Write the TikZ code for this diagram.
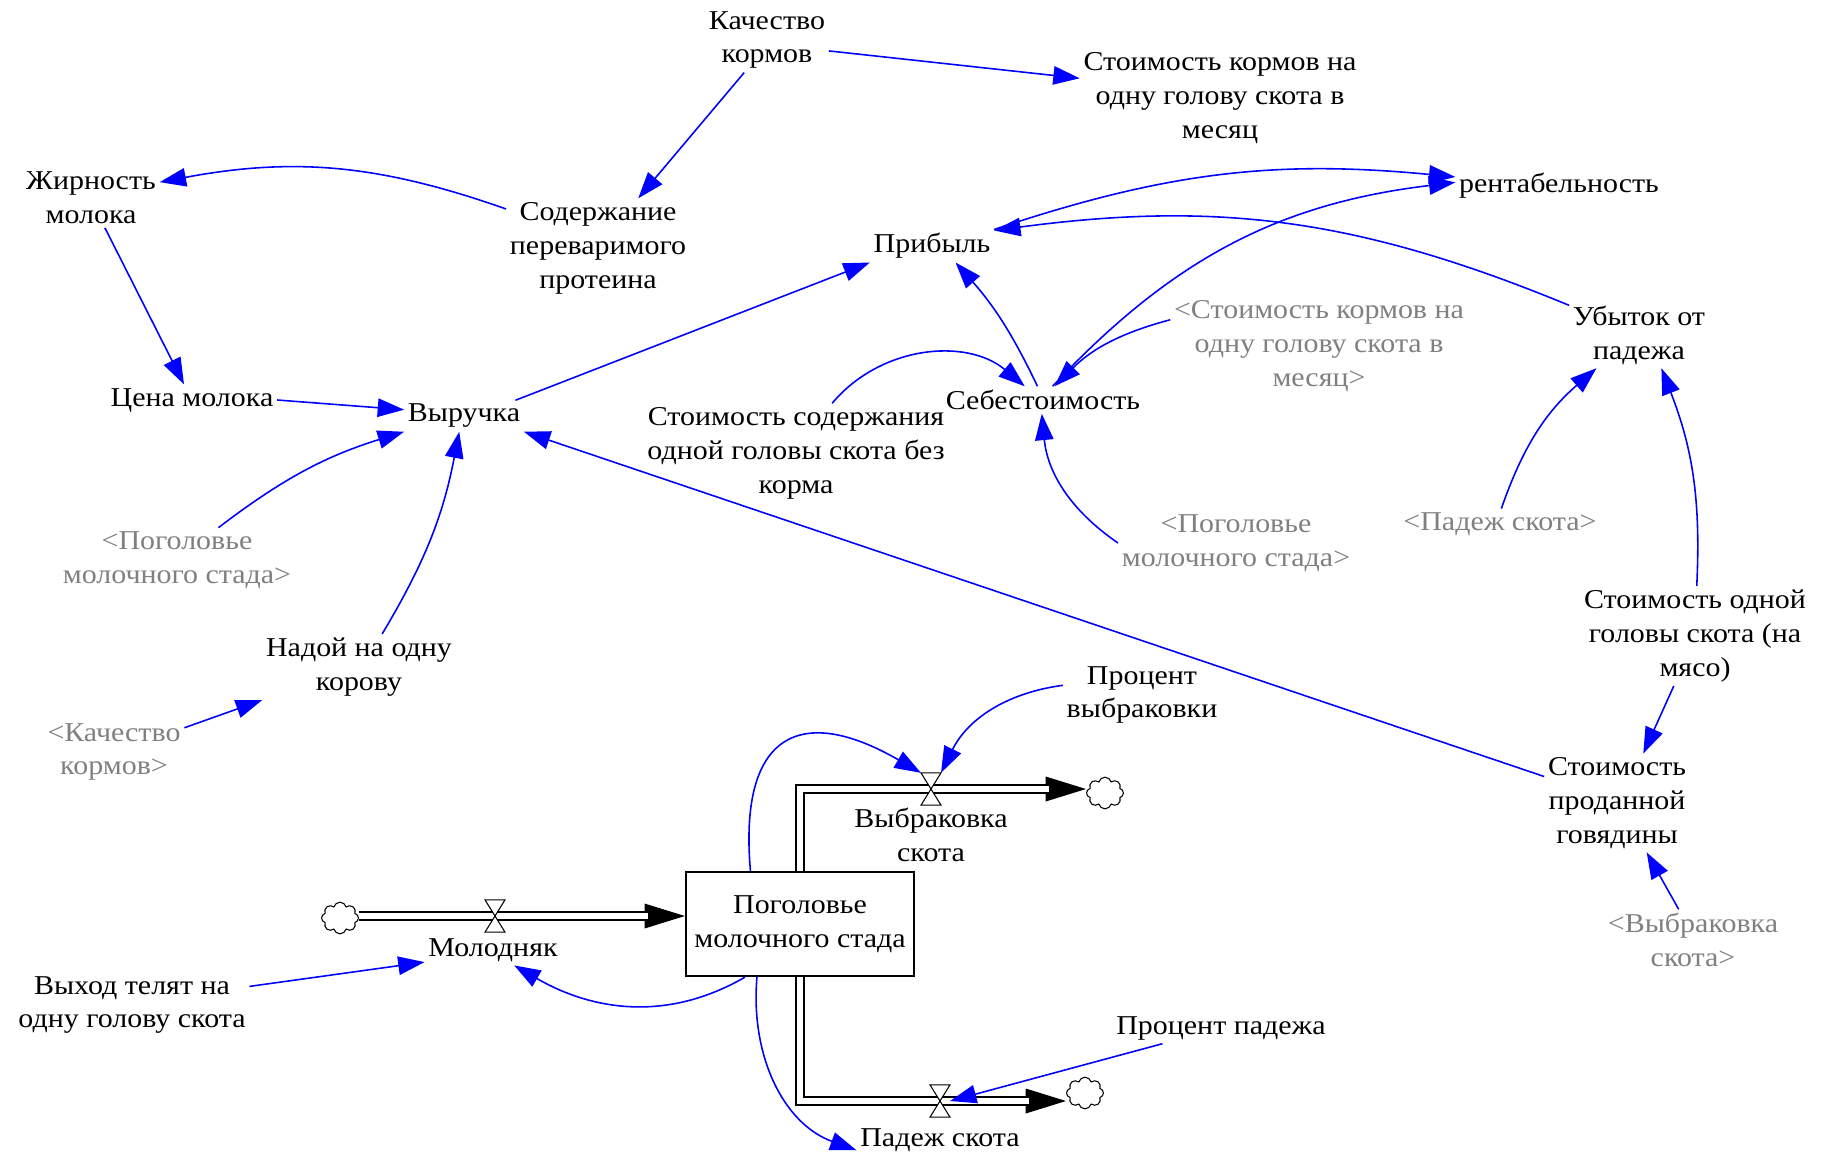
\documentclass[tikz,border=0pt]{standalone}
\usepackage{fontspec}
\setmainfont{Liberation Serif}[FakeStretch=1.1]
\usetikzlibrary{arrows.meta, shapes.symbols}
\definecolor{linkblue}{RGB}{0,0,255}
\definecolor{shadowgray}{RGB}{128,128,128}
\newcommand{\varfont}{\fontsize{15.5pt}{19.3pt}\selectfont}

\begin{document}
\begin{tikzpicture}[x=0.02cm, y=-0.02cm,
	var/.style={align=center, inner sep=2pt, font=\varfont},
	shadowvar/.style={var, text=shadowgray},
	infl/.style={linkblue, line width=0.9pt, -{Triangle[length=15pt,width=10.5pt]}},
	pipe/.style={draw=black, double=white, double distance=3.6pt, line width=0.9pt},
	pipehead/.style={black, line width=0.9pt, -{Triangle[length=23pt,width=14pt]}},
	valve/.style={minimum width=11pt, minimum height=18pt, inner sep=0pt},
	sink/.style={cloud, cloud puffs=8, aspect=1.2, draw, line width=0.6pt, minimum width=21pt, minimum height=18pt, inner sep=0pt},
	stockbox/.style={draw, line width=1pt, minimum width=130pt, minimum height=59.5pt, align=center, font=\varfont}]
	\useasboundingbox (0,0) rectangle (1827,1154);
	% upper part: auxiliaries
	\node[var] (kach) at (767,40) {Качество\\кормов};
	\node[var] (stkorm) at (1220,98) {Стоимость кормов на\\одну голову скота в\\месяц};
	\node[var] (zhir) at (91,198) {Жирность\\молока};
	\node[var] (sod) at (598,248) {Содержание\\переваримого\\протеина};
	\node[var] (rent) at (1559,186) {рентабельность};
	\node[var] (prib) at (932,246) {Прибыль};
	\node[var] (ubyt) at (1639,335) {Убыток от\\падежа};
	\node[shadowvar] (stkormG) at (1319,346) {<Стоимость кормов на\\одну голову скота в\\месяц>};
	\node[var] (cena) at (192,400) {Цена молока};
	\node[var] (vyr) at (464,416) {Выручка};
	\node[var] (sebe) at (1043,400) {Себестоимость};
	\node[var] (stsod) at (796,453) {Стоимость содержания\\одной головы скота без\\корма};
	\node[shadowvar] (pogG1) at (177,560) {<Поголовье\\молочного стада>};
	\node[shadowvar] (pogG2) at (1236,543) {<Поголовье\\молочного стада>};
	\node[shadowvar] (padG) at (1500,524) {<Падеж скота>};
	\node[var] (st1g) at (1695,636) {Стоимость одной\\головы скота (на\\мясо)};
	\node[var] (nadoy) at (359,667) {Надой на одну\\корову};
	\node[shadowvar] (kachG) at (114,752) {<Качество\\кормов>};
	\node[var] (procvyb) at (1142,695) {Процент\\выбраковки};
	\node[var] (stprod) at (1617,803) {Стоимость\\проданной\\говядины};
	\node[shadowvar] (vybG) at (1693,940) {<Выбраковка\\скота>};
	\node[var] (vyhod) at (132,1005) {Выход телят на\\одну голову скота};
	\node[var] (procpad) at (1221,1028) {Процент падежа};
	% stock, clouds and valves
	\node[stockbox] (stock) at (800,924) {Поголовье\\молочного стада};
	\node[sink] (src) at (340,918) {};
	\node[sink] (sinkA) at (1105,793) {};
	\node[sink] (sinkB) at (1085,1093) {};
	\node[valve] (vm) at (495,916) {};
	\node[valve] (vv) at (931,789) {};
	\node[valve] (vp) at (940,1101) {};
	\node[var] (molod) at (493,950) {Молодняк};
	\node[var] (vybr) at (931,835) {Выбраковка\\скота};
	\node[var] (padezh) at (940,1140) {Падеж скота};
	% pipes
	\draw[pipehead] (vm) -- (stock.west |- vm);
	\draw[pipe, shorten >=21pt] (src.east |- vm) -- (stock.west |- vm);
	\draw[pipehead] (vv) -- (vv -| sinkA.west);
	\draw[pipe, shorten >=21pt] (stock.north) |- (vv -| sinkA.west);
	\draw[pipehead] (vp) -- (vp -| sinkB.west);
	\draw[pipe, shorten >=21pt] (stock.south) |- (vp -| sinkB.west);
	\foreach \v in {vm,vv,vp} {
		\draw[fill=white, line width=0.6pt] (\v.north west) -- (\v.north east) -- (\v.center) -- cycle;
		\draw[fill=white, line width=0.6pt] (\v.south west) -- (\v.south east) -- (\v.center) -- cycle;
	}
	% links
	\draw[infl] (kach.-10) -- (stkorm.172);
	\draw[infl] (kach.235) -- (sod.51);
	\draw[infl] (sod.157) to[bend right=15] (zhir.13);
	\draw[infl] (zhir.-65) -- (cena.117);
	\draw[infl] (cena.east) -- (vyr.174);
	\draw[infl] (pogG1.38) to[bend left=10] (vyr.south west);
	\draw[infl] (nadoy.55) to[bend right=10] (vyr.-107);
	\draw[infl] (kachG.19) -- (nadoy.south west);
	\draw[infl] (vyr.17) -- (prib.south west);
	\draw[infl] (stprod.160) -- (vyr.south east);
	\draw[infl] (sebe.112) to[bend right=8] (prib.-35);
	\draw[infl] (prib.north east) to[bend left=12] (rent.175);
	\draw[infl] (sebe.55) to[bend left=20] (rent.178);
	\draw[infl] (stkormG.170) to[bend right=15] (sebe.50);
	\draw[infl] (stsod.54) to[bend left=45] (sebe.143);
	\draw[infl] (pogG2.west) to[bend left=25] (sebe.-95);
	\draw[infl] (ubyt.157) to[bend right=15] (prib.14);
	\draw[infl] (padG.85) to[bend left=15] (ubyt.-142);
	\draw[infl] (st1g.88) to[bend right=12] (ubyt.-56);
	\draw[infl] (st1g.-113) -- (stprod.62);
	\draw[infl] (vybG.115) -- (stprod.-59);
	\draw[infl] (procvyb.173) to[bend right=28] (vv.north east);
	\draw[infl] (stock.133) to[out=95, in=150, looseness=1.8] (vv.north west);
	\draw[infl] (stock.224) to[out=210, in=-30] (molod.-36);
	\draw[infl] (vyhod.9) -- (molod.190);
	\draw[infl] (stock.231) to[out=-95, in=160] (padezh.187);
	\draw[infl] (procpad.195) -- (vp.east);
\end{tikzpicture}
\end{document}
